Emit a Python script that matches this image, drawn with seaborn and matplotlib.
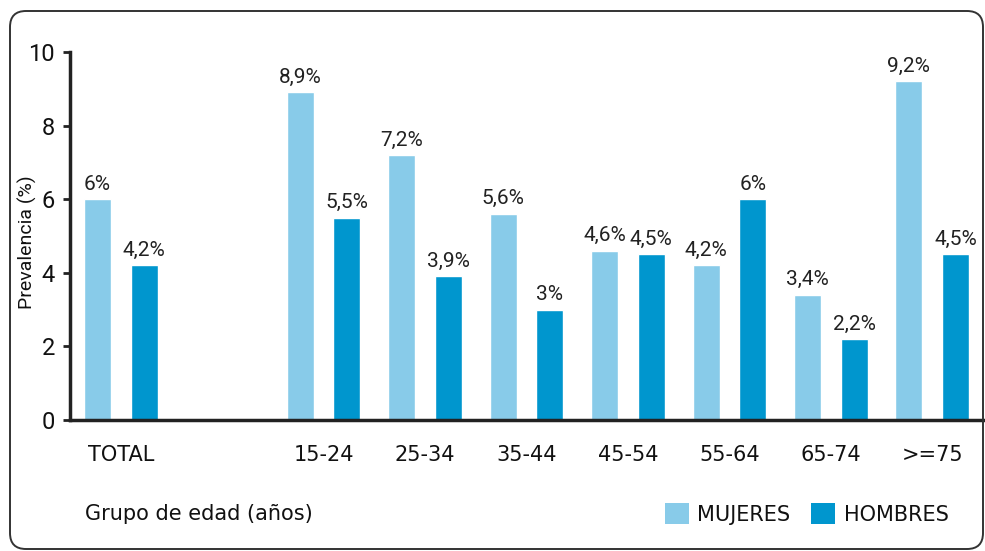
"""
Prevalencia por grupo de edad y sexo
"""
import pandas as pd
import matplotlib.pyplot as plt
import seaborn as sns
from matplotlib.patches import FancyBboxPatch, Patch

# data
grupos = ["TOTAL", "15-24", "25-34", "35-44", "45-54", "55-64", "65-74", ">=75"]
mujeres = [6, 8.9, 7.2, 5.6, 4.6, 4.2, 3.4, 9.2]
hombres = [4.2, 5.5, 3.9, 3, 4.5, 6, 2.2, 4.5]
sexos = ["MUJERES", "HOMBRES"]
colores = ["#88CBE9", "#0096CE"]

# blank slot between TOTAL and the age groups
orden = [grupos[0], ""] + grupos[1:]

df = pd.DataFrame({
    "grupo": grupos * 2,
    "sexo": [sexos[0]] * len(grupos) + [sexos[1]] * len(grupos),
    "valor": mujeres + hombres,
})

sns.set_theme(style="white")
plt.rcParams["font.family"] = ["DejaVu Sans"]
estrecha = ["Roboto", "DejaVu Sans"]

fig = plt.figure(figsize=(9.85, 5.51), dpi=100)
ax = fig.add_axes([0.0711, 0.2377, 0.9289, 0.668])

sns.barplot(
    data=df, x="grupo", y="valor", hue="sexo", order=orden, hue_order=sexos,
    palette=colores, width=0.92, gap=0.42, saturation=1, ax=ax, legend=False,
)

def fmt_pct(v):
    return f"{v:g}".replace(".", ",") + "%"

for cont in ax.containers:
    ax.bar_label(cont, fmt=fmt_pct, padding=4, fontsize=15,
                 family=estrecha, color="#222222")

ax.set_ylim(0, 10)
ax.set_xlim(-0.5, 8.52)
ax.set_yticks([0, 2, 4, 6, 8, 10])
ax.tick_params(axis="y", left=True, length=5, width=2, pad=6,
               labelsize=17, color="#222222", labelcolor="#111111")
for lbl in ax.get_yticklabels():
    lbl.set_family(estrecha)
ax.tick_params(axis="x", bottom=False, pad=12, labelsize=15,
               labelcolor="#111111")
ax.set_xlabel("")
ax.set_ylabel("")

for side in ["top", "right"]:
    ax.spines[side].set_visible(False)
for side in ["left", "bottom"]:
    ax.spines[side].set_color("#222222")
    ax.spines[side].set_linewidth(2.5)

fig.text(0.028, 0.56, "Prevalencia (%)", fontsize=14, family=estrecha,
         rotation=90, ha="center", va="center", color="#111111")
fig.text(0.086, 0.067, "Grupo de edad (años)", fontsize=15, color="#111111",
         va="center")

handles = [Patch(facecolor=c, edgecolor="none") for c in colores]
fig.legend(handles, sexos, loc="center right", bbox_to_anchor=(0.982, 0.067),
           ncol=2, frameon=False, fontsize=15, handlelength=1.15,
           handleheight=1.15, handletextpad=0.4, columnspacing=1.0,
           labelcolor="#111111")

# rounded frame around the whole chart
marco = FancyBboxPatch((0.10, 0.02), 9.73, 5.38,
                       boxstyle="round,pad=0,rounding_size=0.16",
                       transform=fig.dpi_scale_trans, fill=False,
                       edgecolor="#333333", linewidth=1.4)
fig.patches.append(marco)

fig.savefig("out.png", dpi=100)
